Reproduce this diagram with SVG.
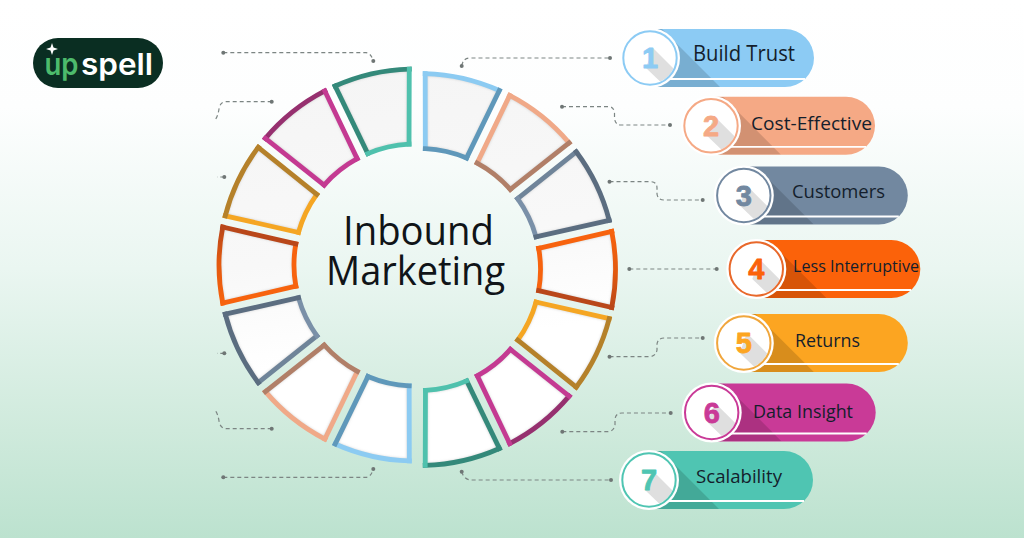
<svg xmlns="http://www.w3.org/2000/svg" width="1024" height="538" viewBox="0 0 1024 538">
<style>
.e{fill:none;stroke-width:4.8;stroke-linecap:square}
.shade{fill:none;stroke:#c4c4c4;stroke-width:4;filter:url(#soft)}
.conn{fill:none;stroke:#7c8583;stroke-width:1.2;stroke-dasharray:4 3}
.dot{fill:#6f7675}
.lab{font-family:"Open Sans","Noto Sans",sans-serif;fill:#141e2c}
.num{font-family:"Liberation Sans",Arial,sans-serif;font-weight:700;font-size:29px;text-anchor:middle;stroke-width:.8;stroke-linejoin:round}
.title{font-family:"Open Sans","Noto Sans",sans-serif;font-size:40px;fill:#101418}
.logo{font-family:Inter,"Liberation Sans",sans-serif;font-weight:600;font-size:30px}
</style>
<defs>
<linearGradient id="bg" x1="0" y1="0" x2="0" y2="1">
<stop offset="0" stop-color="#ffffff"/><stop offset="0.2" stop-color="#fdfefe"/><stop offset="0.5" stop-color="#eaf6f1"/><stop offset="0.8" stop-color="#cfeadc"/><stop offset="1" stop-color="#bce2cf"/>
</linearGradient>
<linearGradient id="ringFill" gradientUnits="userSpaceOnUse" x1="380" y1="60" x2="440" y2="470">
<stop offset="0" stop-color="#f5f5f5"/><stop offset="0.45" stop-color="#f8f8f8"/><stop offset="0.7" stop-color="#ffffff"/><stop offset="1" stop-color="#ffffff"/>
</linearGradient>
<linearGradient id="o4" x1="0" y1="0" x2="1" y2="0"><stop offset="0" stop-color="#f7630e"/><stop offset="0.55" stop-color="#e2590f"/><stop offset="1" stop-color="#b9471a"/></linearGradient>
<filter id="soft" x="-20%" y="-20%" width="140%" height="140%"><feGaussianBlur stdDeviation="1.5"/></filter>
<path id="s" d="M5.68-195.92A196 196 0 0 1 79.85-178.99L47.08-111.49A121 121 0 0 0 5.8-120.86Z"/>
<path id="so" d="M5.68-195.92A196 196 0 0 1 79.85-178.99"/>
<path id="si" d="M47.08-111.49A121 121 0 0 0 5.8-120.86"/>
<path id="sa" d="M5.8-120.86L5.68-195.92"/>
<path id="sb" d="M79.85-178.99L47.08-111.49"/>
<clipPath id="segClip"><use href="#s"/></clipPath>
<clipPath id="ringClip">
<use href="#s" transform="translate(419.5 269.5)"/>
<use href="#s" transform="translate(419.5 269.5) rotate(25.714)"/>
<use href="#s" transform="translate(419.5 269.5) rotate(51.429)"/>
<use href="#s" transform="translate(419.5 269.5) rotate(77.143)"/>
<use href="#s" transform="translate(419.5 269.5) rotate(102.857)"/>
<use href="#s" transform="translate(419.5 269.5) rotate(128.571)"/>
<use href="#s" transform="translate(419.5 269.5) rotate(154.286)"/>
<use href="#s" transform="translate(415 265) rotate(180)"/>
<use href="#s" transform="translate(415 265) rotate(205.714)"/>
<use href="#s" transform="translate(415 265) rotate(231.429)"/>
<use href="#s" transform="translate(415 265) rotate(257.143)"/>
<use href="#s" transform="translate(415 265) rotate(282.857)"/>
<use href="#s" transform="translate(415 265) rotate(308.571)"/>
<use href="#s" transform="translate(415 265) rotate(334.286)"/>
</clipPath>
<path id="pb" d="M0-29H135A29 29 0 0 1 135 29H0Z"/>
<clipPath id="pbClip"><use href="#pb"/></clipPath>
<clipPath id="cClip"><circle r="25.7"/></clipPath>
<g id="pillShape">
<use href="#pb"/>
<polygon points="0,-29 12,-29 70,29 0,29" fill="#000" fill-opacity=".14" clip-path="url(#pbClip)"/>
<path d="M18 21H155" stroke="#fff" stroke-width="1.8" fill="none"/>
<circle r="30" fill="#fff"/>
<polygon points="3,-10 32,19 19,32 -4,10" fill="#dfdfdf" clip-path="url(#cClip)"/>
</g>
</defs>

<rect width="1024" height="538" fill="url(#bg)"/>

<g id="logo">
<rect x="33" y="38" width="130" height="50" rx="25" fill="#0a2e22"/>
<polygon points="52,43 53.5,47.5 58,49 53.5,50.5 52,55 50.5,50.5 46,49 50.5,47.5" fill="#fff"/>
<text class="logo" x="44.5" y="75" fill="#4dbb6c" textLength="34" lengthAdjust="spacingAndGlyphs">up</text>
<text class="logo" x="81" y="75" fill="#fff" textLength="72" lengthAdjust="spacingAndGlyphs">spell</text>
</g>

<g id="connectors">
<path class="conn" d="M461.7 66Q463 58 470 58H610"/>
<path class="conn" d="M562 106.7H609Q614 107 614.5 113V118Q615 125 621 125H670"/>
<path class="conn" d="M609.5 181.7H651Q657 182 657 188V194Q658 200 664 200H702.7"/>
<path class="conn" d="M629.3 269H716.7"/>
<path class="conn" d="M609.5 356.7H650Q656 356 657 350V344Q658 338 664 338H702.7"/>
<path class="conn" d="M562.3 431.7H608Q614 431 615 425V419Q616 413 622 413H670.7"/>
<path class="conn" d="M461.7 471.7Q464 480 472 480H611"/>
<path class="conn" d="M223.3 52.7H366Q371 53 373.3 61"/>
<path class="conn" d="M271.7 101.7H226Q220 102 219 109Q218 116 215 120"/>
<path class="conn" d="M224.3 177H217"/>
<path class="conn" d="M224.3 353.3H217"/>
<path class="conn" d="M271.7 428.7H226Q220 428 219 421Q218 414 215 410"/>
<path class="conn" d="M223.3 477.3H366Q371 477 373.3 469"/>
<g class="dot">
<circle cx="461.7" cy="66" r="2"/><circle cx="610" cy="58" r="2"/>
<circle cx="562" cy="106.7" r="2"/><circle cx="670" cy="125" r="2"/>
<circle cx="609.5" cy="181.7" r="2"/><circle cx="702.7" cy="200" r="2"/>
<circle cx="629.3" cy="269" r="2"/><circle cx="716.7" cy="269" r="2"/>
<circle cx="609.5" cy="356.7" r="2"/><circle cx="702.7" cy="338" r="2"/>
<circle cx="562.3" cy="431.7" r="2"/><circle cx="670.7" cy="413" r="2"/>
<circle cx="461.7" cy="471.7" r="2"/><circle cx="611" cy="480" r="2"/>
<circle cx="223.3" cy="52.7" r="2"/><circle cx="373.3" cy="61" r="2"/>
<circle cx="271.7" cy="101.7" r="2"/>
<circle cx="224.3" cy="177" r="2"/>
<circle cx="224.3" cy="353.3" r="2"/>
<circle cx="271.7" cy="428.7" r="2"/>
<circle cx="223.3" cy="477.3" r="2"/><circle cx="373.3" cy="469" r="2"/>
</g>
</g>

<g id="ring-fill"><rect x="200" y="50" width="440" height="440" fill="url(#ringFill)" clip-path="url(#ringClip)"/></g>

<g id="ring-right" transform="translate(419.5 269.5)">
<g id="seg-1"><use href="#s" class="shade" clip-path="url(#segClip)"/><g class="e"><use href="#sa" stroke="#8ccbf2"/><use href="#so" stroke="#8ccbf2"/><use href="#si" stroke="#5f98ba"/><use href="#sb" stroke="#5f98ba"/></g></g>
<g id="seg-2" transform="rotate(25.714)"><use href="#s" class="shade" clip-path="url(#segClip)"/><g class="e"><use href="#sa" stroke="#f0a988"/><use href="#so" stroke="#f0a988"/><use href="#si" stroke="#b17f68"/><use href="#sb" stroke="#b17f68"/></g></g>
<g id="seg-3" transform="rotate(51.429)"><use href="#s" class="shade" clip-path="url(#segClip)"/><g class="e"><use href="#sa" stroke="#6f8499"/><use href="#si" stroke="#7a90a8"/><use href="#so" stroke="#5b6d80"/><use href="#sb" stroke="#5b6d80"/></g></g>
<g id="seg-4" transform="rotate(77.143)"><use href="#s" class="shade" clip-path="url(#segClip)"/><g class="e"><use href="#sa" stroke="#f7630e"/><use href="#si" stroke="#f7630e"/><use href="#so" stroke="url(#o4)"/><use href="#sb" stroke="#b9471a"/></g></g>
<g id="seg-5" transform="rotate(102.857)"><use href="#s" class="shade" clip-path="url(#segClip)"/><g class="e"><use href="#sa" stroke="#f5a623"/><use href="#si" stroke="#f5a623"/><use href="#so" stroke="#b5812a"/><use href="#sb" stroke="#b5812a"/></g></g>
<g id="seg-6" transform="rotate(128.571)"><use href="#s" class="shade" clip-path="url(#segClip)"/><g class="e"><use href="#so" stroke="#96306f"/><use href="#sa" stroke="#c43a92"/><use href="#si" stroke="#c43a92"/><use href="#sb" stroke="#c43a92"/></g></g>
<g id="seg-7" transform="rotate(154.286)"><use href="#s" class="shade" clip-path="url(#segClip)"/><g class="e"><use href="#sa" stroke="#34897a"/><use href="#so" stroke="#34897a"/><use href="#si" stroke="#4fc1ad"/><use href="#sb" stroke="#4fc1ad"/></g></g>
</g>
<g id="ring-left" transform="translate(415 265)">
<g id="seg-8" transform="rotate(180)"><use href="#s" class="shade" clip-path="url(#segClip)"/><g class="e"><use href="#sa" stroke="#8ccbf2"/><use href="#so" stroke="#8ccbf2"/><use href="#si" stroke="#5f98ba"/><use href="#sb" stroke="#5f98ba"/></g></g>
<g id="seg-9" transform="rotate(205.714)"><use href="#s" class="shade" clip-path="url(#segClip)"/><g class="e"><use href="#sa" stroke="#f0a988"/><use href="#so" stroke="#f0a988"/><use href="#si" stroke="#b17f68"/><use href="#sb" stroke="#b17f68"/></g></g>
<g id="seg-10" transform="rotate(231.429)"><use href="#s" class="shade" clip-path="url(#segClip)"/><g class="e"><use href="#sa" stroke="#6f8499"/><use href="#si" stroke="#7a90a8"/><use href="#so" stroke="#5b6d80"/><use href="#sb" stroke="#5b6d80"/></g></g>
<g id="seg-11" transform="rotate(257.143)"><use href="#s" class="shade" clip-path="url(#segClip)"/><g class="e"><use href="#sa" stroke="#f7630e"/><use href="#si" stroke="#f7630e"/><use href="#so" stroke="url(#o4)"/><use href="#sb" stroke="#b9471a"/></g></g>
<g id="seg-12" transform="rotate(282.857)"><use href="#s" class="shade" clip-path="url(#segClip)"/><g class="e"><use href="#sa" stroke="#f5a623"/><use href="#si" stroke="#f5a623"/><use href="#so" stroke="#b5812a"/><use href="#sb" stroke="#b5812a"/></g></g>
<g id="seg-13" transform="rotate(308.571)"><use href="#s" class="shade" clip-path="url(#segClip)"/><g class="e"><use href="#so" stroke="#96306f"/><use href="#sa" stroke="#c43a92"/><use href="#si" stroke="#c43a92"/><use href="#sb" stroke="#c43a92"/></g></g>
<g id="seg-14" transform="rotate(334.286)"><use href="#s" class="shade" clip-path="url(#segClip)"/><g class="e"><use href="#sa" stroke="#34897a"/><use href="#so" stroke="#34897a"/><use href="#si" stroke="#4fc1ad"/><use href="#sb" stroke="#4fc1ad"/></g></g>
</g>

<g id="title">
<text class="title" x="343" y="245" textLength="151" lengthAdjust="spacingAndGlyphs">Inbound</text>
<text class="title" x="326" y="285" textLength="179" lengthAdjust="spacingAndGlyphs">Marketing</text>
</g>

<g id="pill-1">
<g transform="translate(650 58)" fill="#8ccbf4" stroke="none"><use href="#pillShape"/><circle r="26.7" fill="none" stroke="#8ccbf4" stroke-width="2"/><text class="num" y="10" stroke="#8ccbf4">1</text></g>
<text class="lab" x="693" y="60.5" font-size="21" textLength="102" lengthAdjust="spacingAndGlyphs">Build Trust</text>
</g>
<g id="pill-2">
<g transform="translate(711 125.8)" fill="#f5a985"><use href="#pillShape"/><circle r="26.7" fill="none" stroke="#f5a985" stroke-width="2"/><text class="num" y="10" stroke="#f5a985">2</text></g>
<text class="lab" x="751" y="130" font-size="19" textLength="121" lengthAdjust="spacingAndGlyphs">Cost-Effective</text>
</g>
<g id="pill-3">
<g transform="translate(743.8 195.5)" fill="#7288a0"><use href="#pillShape"/><circle r="26.7" fill="none" stroke="#7288a0" stroke-width="2"/><text class="num" y="10" stroke="#7288a0">3</text></g>
<text class="lab" x="792" y="197.7" font-size="18" textLength="93" lengthAdjust="spacingAndGlyphs">Customers</text>
</g>
<g id="pill-4">
<g transform="translate(756.3 269)" fill="#fb620a"><use href="#pillShape"/><circle r="26.7" fill="none" stroke="#e8682a" stroke-width="2"/><text class="num" y="10" stroke="#fb620a">4</text></g>
<text class="lab" x="793" y="272" font-size="16.5" textLength="126" lengthAdjust="spacingAndGlyphs">Less Interruptive</text>
</g>
<g id="pill-5">
<g transform="translate(743.8 343)" fill="#fca521"><use href="#pillShape"/><circle r="26.7" fill="none" stroke="#f0a63c" stroke-width="2"/><text class="num" y="10" stroke="#fca521">5</text></g>
<text class="lab" x="795" y="346.7" font-size="17.5" textLength="65" lengthAdjust="spacingAndGlyphs">Returns</text>
</g>
<g id="pill-6">
<g transform="translate(711.7 412.5)" fill="#c93a97"><use href="#pillShape"/><circle r="26.7" fill="none" stroke="#c93a97" stroke-width="2"/><text class="num" y="10" stroke="#c93a97">6</text></g>
<text class="lab" x="753" y="418" font-size="18" textLength="100" lengthAdjust="spacingAndGlyphs">Data Insight</text>
</g>
<g id="pill-7">
<g transform="translate(649 480)" fill="#4fc5b2"><use href="#pillShape"/><circle r="26.7" fill="none" stroke="#4fc5b2" stroke-width="2"/><text class="num" y="10" stroke="#4fc5b2">7</text></g>
<text class="lab" x="696" y="482.5" font-size="18" textLength="86" lengthAdjust="spacingAndGlyphs">Scalability</text>
</g>
</svg>
